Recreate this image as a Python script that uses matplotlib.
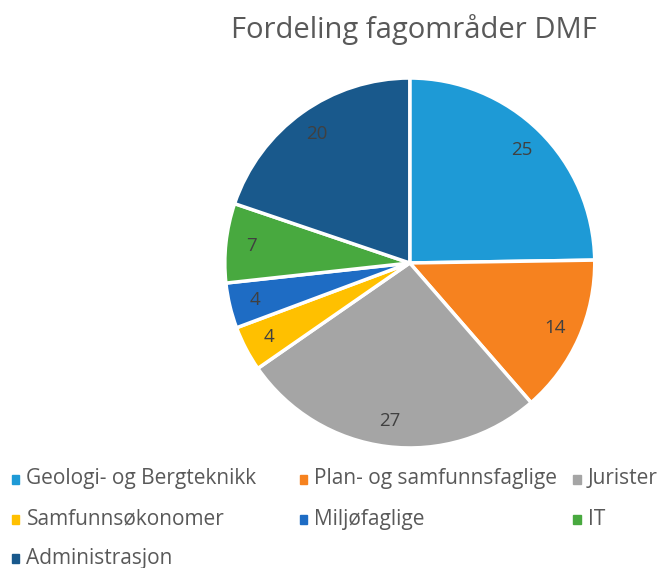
import matplotlib.pyplot as plt
from matplotlib.patches import Rectangle

categories = ["Geologi- og Bergteknikk", "Plan- og samfunnsfaglige", "Jurister",
              "Samfunnsøkonomer", "Miljøfaglige", "IT", "Administrasjon"]
values = [25, 14, 27, 4, 4, 7, 20]
colors = ["#1E9AD6", "#F6821F", "#A5A5A5", "#FFC000", "#1E6CC4", "#48A93F", "#19598C"]

plt.rcParams["font.family"] = ["Open Sans", "DejaVu Sans"]

fig = plt.figure(figsize=(6.62, 5.68), dpi=100)
ax = fig.add_axes([0.619 - 0.278, 0.537 - 0.324, 0.556, 0.648])

wedges, texts, autotexts = ax.pie(
    values, colors=colors, startangle=90, counterclock=False,
    autopct=lambda p: f"{round(p * sum(values) / 100):d}",
    pctdistance=0.86,
    wedgeprops=dict(edgecolor="white", linewidth=2.5),
    textprops=dict(color="#404040", fontsize=13.5))
ax.set_xlim(-0.995, 0.995)
ax.set_ylim(-0.995, 0.995)
ax.set_aspect("equal")

fig.text(0.625, 0.948, "Fordeling fagområder DMF", ha="center", va="center",
         fontsize=21, color="#595959")

# legend, 3 columns
col_x = [0.018, 0.453, 0.866]
row_y = [0.157, 0.086, 0.017]
for i, (lab, c) in enumerate(zip(categories, colors)):
    x = col_x[i % 3]
    y = row_y[i // 3]
    fig.patches.append(Rectangle((x, y - 0.009), 0.011, 0.016, color=c,
                                 transform=fig.transFigure, figure=fig))
    fig.text(x + 0.022, y, lab, ha="left", va="center", fontsize=15,
             color="#595959")

plt.savefig("out.png", dpi=100, facecolor="white")
